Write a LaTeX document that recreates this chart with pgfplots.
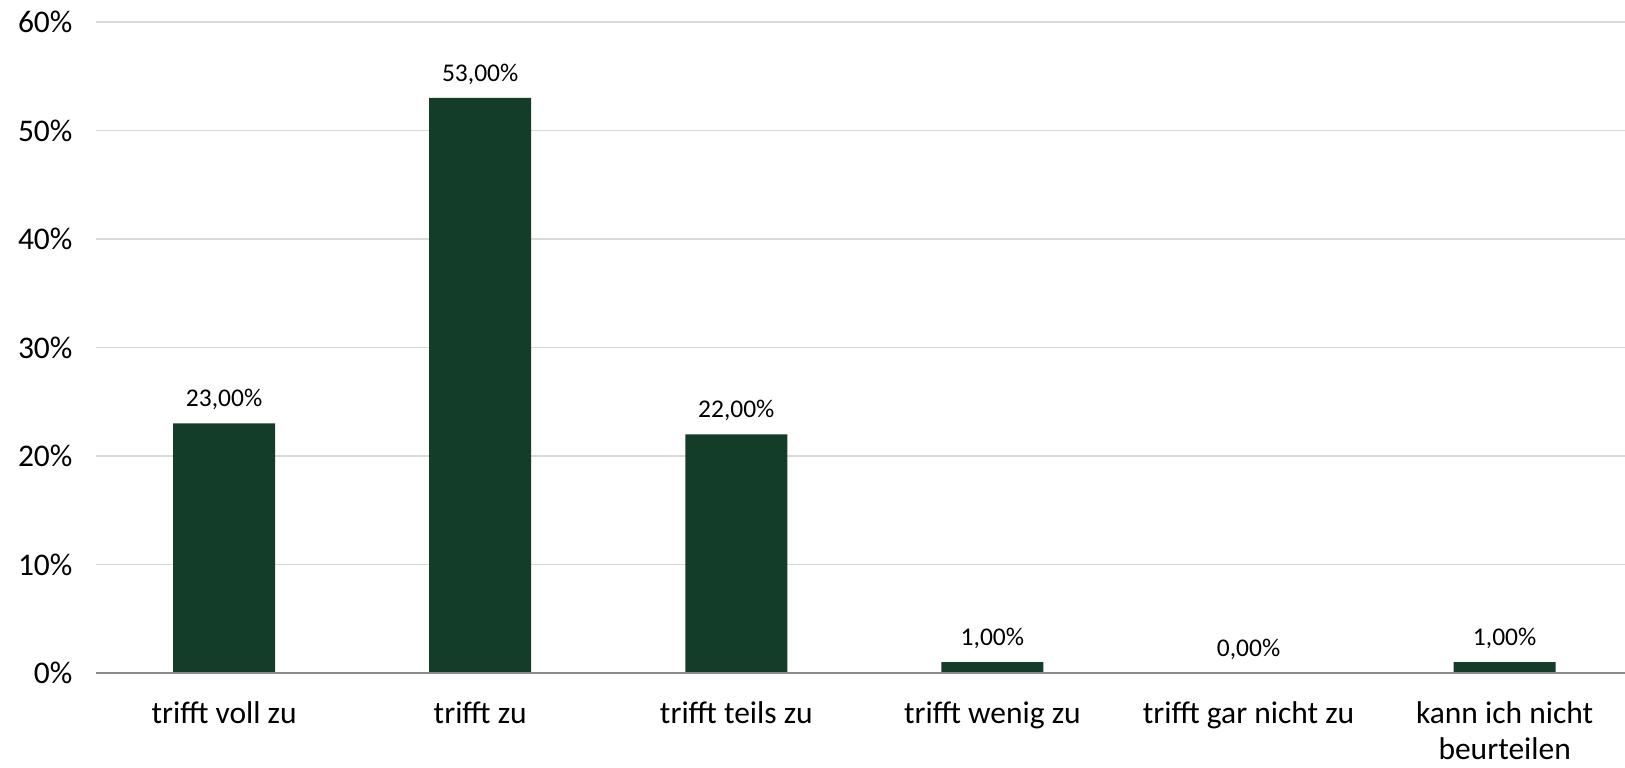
\documentclass[border=0pt]{standalone}
\usepackage{pgfplots}
\pgfplotsset{compat=1.18}
\usepackage{fontspec}
\setmainfont{Carlito}
\definecolor{bargreen}{HTML}{133D28}
\definecolor{gridgray}{HTML}{D9D9D9}
\definecolor{axisgray}{HTML}{8C8C8C}
\begin{document}
\begin{tikzpicture}[x=1pt,y=1pt]
\begin{axis}[
  scale only axis,
  width=1529pt, height=651pt,
  at={(0,0)}, anchor=south west,
  xmin=-0.5, xmax=5.47,
  ymin=0, ymax=60,
  ytick={0,10,...,60},
  /pgf/number format/assume math mode=true,
  yticklabel={\pgfmathprintnumber{\tick}\%},
  yticklabel style={font=\fontsize{31.5}{37}\selectfont, xshift=-20pt},
  xtick={0,1,2,3,4,5},
  xticklabels={trifft voll zu, trifft zu, trifft teils zu, trifft wenig zu, trifft gar nicht zu, {kann ich nicht\\beurteilen}},
  xticklabel style={font=\fontsize{31.5}{36.5}\selectfont, align=center, yshift=-25pt},
  major tick length=0pt,
  ymajorgrids,
  grid style={gridgray, line width=1.5pt},
  axis line style={draw=none},
  axis x line*=bottom,
  axis y line*=left,
  ybar,
  bar width=102pt,
  nodes near coords={\pgfmathprintnumber[fixed,fixed zerofill,precision=2,use comma,assume math mode=true]{\pgfplotspointmeta}\%},
  every node near coord/.append style={font=\fontsize{25.5}{30}\selectfont, black, yshift=10pt},
  clip=false,
]
\addplot[fill=bargreen, draw=none] coordinates {(0,23) (1,53) (2,22) (3,1) (4,0) (5,1)};
\draw[axisgray, line width=1.5pt] (axis cs:-0.5,0) -- (axis cs:5.47,0);
\end{axis}
\pgfresetboundingbox
\path (-96pt,-95pt) rectangle (1529pt,673pt);
\end{tikzpicture}
\end{document}
